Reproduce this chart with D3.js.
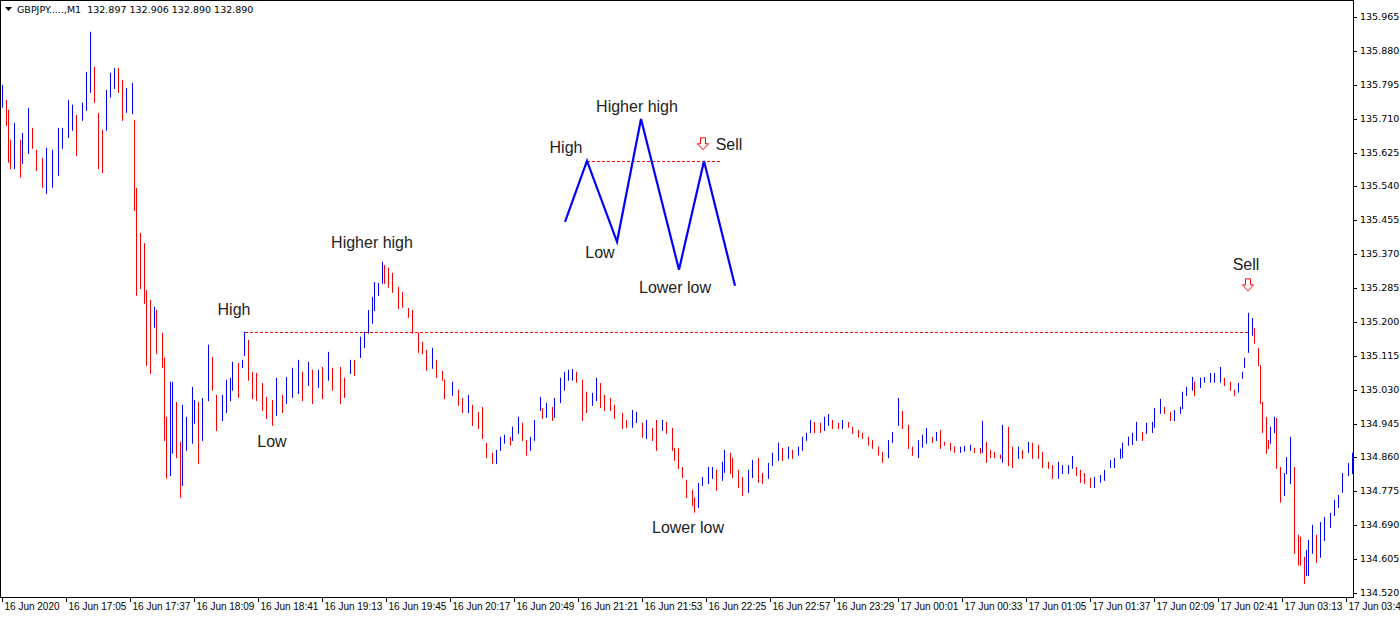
<!DOCTYPE html>
<html><head><meta charset="utf-8">
<script src="https://cdn.jsdelivr.net/npm/d3@7/dist/d3.min.js"></script>
<style>body{margin:0;background:#fff}svg{display:block}</style>
</head><body><svg id="c" width="1400" height="619"></svg>
<script>
// [minute since 16 Jun 16:33, high, low]
const bars = [
[0,135.795,135.740],[2,135.757,135.694],[3,135.732,135.602],[4,135.657,135.586],[6,135.699,135.586],[9,135.657,135.564],[10,135.674,135.599],[13,135.737,135.624],[15,135.687,135.637],[17,135.632,135.581],[20,135.611,135.539],[22,135.637,135.524],[25,135.632,135.539],[28,135.687,135.569],[30,135.687,135.637],[33,135.757,135.664],[35,135.745,135.682],[37,135.719,135.619],[40,135.750,135.707],[42,135.827,135.732],[44,135.928,135.777],[46,135.840,135.752],[48,135.724,135.586],[50,135.682,135.576],[52,135.782,135.682],[54,135.825,135.765],[56,135.837,135.787],[58,135.837,135.777],[60,135.807,135.707],[62,135.787,135.727],[65,135.800,135.724],[66,135.707,135.481],[67,135.536,135.268],[69,135.423,135.285],[71,135.398,135.248],[72,135.280,135.092],[74,135.255,135.072],[76,135.238,135.188],[77,135.230,135.122],[80,135.173,135.087],[81,135.110,134.904],[82,134.962,134.809],[84,135.050,134.816],[85,135.050,134.872],[87,134.999,134.861],[89,134.899,134.761],[90,134.992,134.791],[92,134.962,134.879],[95,135.037,134.897],[96,135.004,134.947],[98,134.999,134.846],[100,135.009,134.904],[103,135.143,135.004],[105,135.112,135.030],[107,135.017,134.929],[110,135.017,134.954],[112,135.055,134.974],[114,135.060,135.004],[115,135.100,135.030],[118,135.097,135.012],[120,135.105,135.087],[121,135.175,135.117],[123,135.155,135.055],[125,135.075,135.009],[127,135.072,135.004],[130,135.047,134.979],[132,135.012,134.959],[135,135.004,134.942],[137,135.060,134.967],[140,135.017,134.974],[142,135.062,134.997],[145,135.085,135.012],[148,135.105,135.022],[150,135.075,135.004],[153,135.100,135.042],[155,135.080,134.997],[158,135.080,135.037],[160,135.087,135.009],[163,135.125,135.055],[165,135.085,135.030],[169,135.087,134.997],[171,135.060,135.012],[174,135.105,135.072],[176,135.105,135.067],[179,135.163,135.112],[181,135.175,135.137],[183,135.230,135.173],[185,135.263,135.198],[186,135.300,135.230],[188,135.298,135.268],[190,135.351,135.298],[191,135.343,135.298],[193,135.336,135.288],[195,135.323,135.275],[198,135.288,135.235],[200,135.275,135.238],[203,135.235,135.213],[205,135.230,135.173],[208,135.173,135.125],[210,135.150,135.122],[212,135.130,135.080],[215,135.135,135.085],[217,135.105,135.062],[220,135.077,135.055],[221,135.055,135.009],[225,135.050,135.017],[228,135.030,134.992],[230,135.009,134.974],[233,135.017,134.974],[235,134.992,134.942],[238,134.974,134.934],[240,134.987,134.909],[242,134.897,134.861],[245,134.872,134.846],[247,134.879,134.846],[249,134.912,134.879],[251,134.917,134.897],[254,134.912,134.892],[255,134.937,134.904],[258,134.962,134.922],[260,134.947,134.904],[262,134.904,134.867],[264,134.912,134.879],[266,134.954,134.904],[269,135.012,134.979],[270,134.984,134.959],[272,134.997,134.962],[275,134.987,134.954],[276,135.009,134.962],[279,135.060,134.999],[281,135.075,135.030],[283,135.080,135.055],[285,135.082,135.055],[287,135.075,135.050],[290,135.055,134.954],[292,135.025,134.974],[295,135.022,134.992],[297,135.060,135.004],[299,135.047,134.987],[301,135.017,134.979],[304,135.009,134.979],[306,134.992,134.959],[310,134.972,134.934],[312,134.954,134.937],[315,134.979,134.937],[317,134.974,134.949],[320,134.947,134.912],[322,134.954,134.909],[325,134.934,134.904],[327,134.954,134.879],[330,134.954,134.929],[332,134.949,134.922],[335,134.934,134.879],[336,134.884,134.854],[338,134.884,134.834],[340,134.836,134.811],[342,134.804,134.761],[345,134.779,134.741],[346,134.759,134.724],[348,134.796,134.736],[350,134.811,134.791],[353,134.836,134.796],[355,134.836,134.809],[357,134.829,134.779],[360,134.849,134.804],[361,134.879,134.824],[364,134.872,134.821],[365,134.859,134.811],[368,134.829,134.786],[370,134.811,134.766],[373,134.829,134.774],[375,134.854,134.811],[378,134.859,134.799],[380,134.821,134.796],[383,134.846,134.809],[385,134.872,134.841],[388,134.897,134.854],[390,134.884,134.854],[393,134.887,134.859],[395,134.879,134.859],[398,134.887,134.867],[400,134.912,134.879],[402,134.922,134.904],[404,134.954,134.924],[406,134.949,134.924],[409,134.947,134.924],[411,134.962,134.929],[413,134.969,134.942],[415,134.954,134.934],[418,134.947,134.934],[420,134.954,134.934],[423,134.949,134.937],[425,134.937,134.922],[428,134.929,134.912],[430,134.922,134.909],[433,134.912,134.892],[435,134.904,134.884],[438,134.887,134.867],[440,134.874,134.849],[443,134.904,134.861],[445,134.924,134.899],[448,135.009,134.942],[450,134.977,134.934],[453,134.942,134.884],[455,134.887,134.867],[458,134.904,134.861],[460,134.917,134.887],[462,134.934,134.897],[465,134.912,134.899],[467,134.924,134.904],[469,134.929,134.884],[471,134.899,134.892],[474,134.897,134.879],[476,134.887,134.874],[479,134.887,134.874],[481,134.889,134.877],[484,134.892,134.879],[486,134.884,134.874],[489,134.884,134.872],[490,134.952,134.874],[492,134.899,134.849],[494,134.879,134.861],[496,134.874,134.861],[499,134.867,134.859],[500,134.942,134.849],[503,134.937,134.841],[505,134.887,134.836],[508,134.887,134.859],[510,134.879,134.859],[513,134.899,134.874],[515,134.897,134.859],[518,134.892,134.859],[520,134.874,134.836],[523,134.849,134.834],[525,134.841,134.809],[528,134.849,134.809],[530,134.841,134.821],[533,134.841,134.821],[535,134.864,134.834],[537,134.836,134.816],[539,134.829,134.799],[541,134.821,134.796],[544,134.809,134.786],[546,134.811,134.786],[549,134.816,134.799],[551,134.829,134.804],[554,134.854,134.836],[556,134.859,134.836],[559,134.882,134.859],[560,134.897,134.861],[563,134.912,134.892],[565,134.922,134.894],[567,134.949,134.904],[570,134.924,134.904],[572,134.947,134.922],[575,134.949,134.924],[576,134.984,134.937],[579,135.007,134.972],[581,134.987,134.972],[584,134.974,134.954],[586,134.979,134.954],[589,134.987,134.972],[590,135.025,134.984],[592,135.037,135.017],[595,135.062,135.030],[596,135.050,135.017],[599,135.060,135.037],[601,135.062,135.050],[604,135.072,135.050],[606,135.072,135.050],[609,135.087,135.050],[611,135.060,135.042],[614,135.050,135.030],[616,135.030,135.017],[618,135.047,135.025],[620,135.075,135.060],[621,135.110,135.087],[623,135.223,135.125],[625,135.210,135.168],[626,135.185,135.148],[628,135.135,135.092],[629,135.092,134.997],[630,134.999,134.924],[632,134.962,134.872],[633,134.904,134.884],[634,134.937,134.897],[636,134.962,134.924],[637,134.959,134.834],[639,134.836,134.749],[641,134.821,134.766],[642,134.861,134.821],[644,134.912,134.796],[646,134.836,134.621],[648,134.666,134.591],[649,134.661,134.591],[651,134.611,134.545],[652,134.628,134.565],[653,134.653,134.565],[655,134.691,134.621],[657,134.666,134.598],[659,134.698,134.611],[661,134.711,134.653],[664,134.721,134.686],[666,134.754,134.716],[668,134.766,134.736],[670,134.821,134.774],[673,134.846,134.816],[675,134.872,134.821]
];
const priceTicks = [135.965,135.880,135.795,135.710,135.625,135.540,135.455,135.370,135.285,135.200,135.115,135.030,134.945,134.860,134.775,134.690,134.605,134.520];
const timeLabels = ["16 Jun 2020","16 Jun 17:05","16 Jun 17:37","16 Jun 18:09","16 Jun 18:41","16 Jun 19:13","16 Jun 19:45","16 Jun 20:17","16 Jun 20:49","16 Jun 21:21","16 Jun 21:53","16 Jun 22:25","16 Jun 22:57","16 Jun 23:29","17 Jun 00:01","17 Jun 00:33","17 Jun 01:05","17 Jun 01:37","17 Jun 02:09","17 Jun 02:41","17 Jun 03:13","17 Jun 03:45"];
const timeLabelMinutes = timeLabels.map((d,i)=>i*32);
const levelPrice = 135.175, levelFrom = 121.5, levelTo = 624;
const mainNotes = [["High",116,135.228],["Low",135,134.897],["Higher high",185,135.396],["Lower low",343,134.681],["Sell",622,135.341]];
const sellArrow = [623, 135.293];
// schematic inset
const zigMin = [281.5,292.5,307.5,319.5,338.5,351,366.5];
const zigPrice = [135.451,135.604,135.401,135.709,135.331,135.604,135.291];
const insetLevel = [135.604, 292.5, 359];
const insetNotes = [["High",282,135.634],["Low",299,135.371],["Higher high",317.5,135.737],["Lower low",336.5,135.283],["Sell",363.5,135.642]];
const insetArrow = [350.5, 135.647];
const header = "GBPJPY.....,M1  132.897 132.906 132.890 132.890";

const svg = d3.select("#c");
const W=1353, H=597;
const xScale = d3.scaleLinear().domain([0,675]).range([2,1352]);
const y = d3.scaleLinear().domain([135.965,134.520]).range([17,593]);

svg.append("rect").attr("x",0.5).attr("y",0.5).attr("width",W).attr("height",H).attr("fill","#fff").attr("stroke","#000");

bars.forEach((b,i)=>{
  const prev = i>0 ? (bars[i-1][1]+bars[i-1][2])/2 : b[2];
  const mid = (b[1]+b[2])/2;
  const col = mid>=prev ? "#0000ff" : "#ff0000";
  const px = Math.round(xScale(b[0]))+0.5;
  svg.append("line").attr("x1",px).attr("x2",px).attr("y1",y(b[1])).attr("y2",y(b[2])+1).attr("stroke",col).attr("stroke-width",1);
});

svg.append("line").attr("x1",xScale(levelFrom)).attr("x2",xScale(levelTo)).attr("y1",Math.round(y(levelPrice))+0.5).attr("y2",Math.round(y(levelPrice))+0.5)
  .attr("stroke","#ff0000").attr("stroke-dasharray","3,2");
svg.append("line").attr("x1",xScale(insetLevel[1])).attr("x2",xScale(insetLevel[2])).attr("y1",Math.round(y(insetLevel[0]))+0.5).attr("y2",Math.round(y(insetLevel[0]))+0.5)
  .attr("stroke","#ff0000").attr("stroke-dasharray","3,2");

svg.append("path").attr("d",d3.line().x(d=>xScale(d[0])).y(d=>y(d[1]))(zigMin.map((m,i)=>[m,zigPrice[i]])))
  .attr("fill","none").attr("stroke","#0000ff").attr("stroke-width",2.2);

const noteStyle = s=>s.attr("font-family","Liberation Sans, Arial, sans-serif").attr("font-size",16).attr("fill","#222").attr("text-anchor","middle").attr("dominant-baseline","middle");
mainNotes.concat(insetNotes).forEach(n=>{
  svg.append("text").text(n[0]).attr("x",xScale(n[1])).attr("y",y(n[2])).call(noteStyle);
});

function arrow(m,p){
  const cx=xScale(m), cy=y(p);
  svg.append("path").attr("d",`M${cx-2.5},${cy-6}h5v6h3l-5.5,6l-5.5,-6h3z`).attr("fill","#fff").attr("stroke","#ff0000").attr("stroke-width",1);
}
arrow(...sellArrow); arrow(...insetArrow);

svg.append("path").attr("d","M5,7h7l-3.5,4z").attr("fill","#000");
svg.append("text").text(header).attr("x",17).attr("y",13).attr("font-family","DejaVu Sans, sans-serif").attr("font-size",9.5).attr("fill","#000").attr("xml:space","preserve");

priceTicks.forEach(t=>{
  const py = Math.round(y(t))+0.5;
  svg.append("line").attr("x1",W).attr("x2",W+4).attr("y1",py).attr("y2",py).attr("stroke","#000");
  svg.append("text").text(t.toFixed(3)).attr("x",1360).attr("y",py).attr("dominant-baseline","middle")
    .attr("font-family","DejaVu Sans, sans-serif").attr("font-size",9.5).attr("fill","#000");
});
timeLabelMinutes.forEach((m,i)=>{
  const px = Math.round(xScale(m))+0.5;
  svg.append("line").attr("x1",px).attr("x2",px).attr("y1",H).attr("y2",H+5).attr("stroke","#000");
  svg.append("text").text(timeLabels[i]).attr("x",px+2).attr("y",610).attr("font-family","Liberation Sans, Arial, sans-serif").attr("font-size",10).attr("fill","#000");
});
</script></body></html>
